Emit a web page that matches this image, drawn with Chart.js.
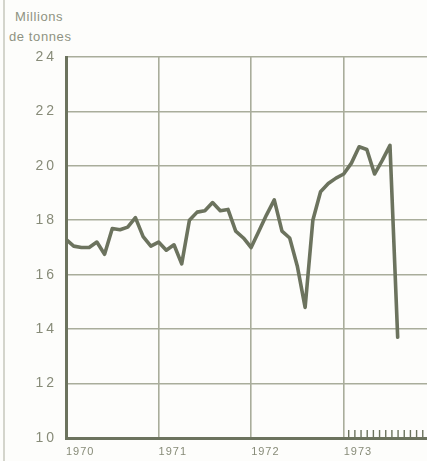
<!DOCTYPE html>
<html lang="fr">
<head>
<meta charset="UTF-8">
<title>Millions de tonnes 1970-1973</title>
<script src="https://cdn.jsdelivr.net/npm/chart.js"></script>
<style>
    body { margin: 0; background: #fdfdfb; }
    .wrap { position: relative; width: 427px; height: 461px; overflow: hidden; }
    .edge { position: absolute; left: 3px; top: 0; width: 2px; height: 461px; background: #d4d5cc; }
    .unit {
        position: absolute; color: #8f9382;
        font-family: 'Liberation Sans', sans-serif; font-size: 13px; letter-spacing: 0.6px;
    }
    canvas { position: absolute; left: 0; top: 0; }
</style>
</head>
<body>
<div class="wrap">
    <div class="edge"></div>
    <div class="unit" style="left:15px; top:9px;">Millions</div>
    <div class="unit" style="left:9px; top:29px;">de tonnes</div>
    <canvas id="chart" width="427" height="461"></canvas>
</div>

<script>
    // monthly values, Jan 1970 .. Aug 1973
    const values1970 = [17.3, 17.05, 17.0, 17.0, 17.2, 16.75, 17.7, 17.65, 17.75, 18.1, 17.4, 17.05];
    const values1971 = [17.2, 16.9, 17.1, 16.4, 18.0, 18.3, 18.35, 18.65, 18.35, 18.4, 17.6, 17.35];
    const values1972 = [17.0, 17.6, 18.2, 18.75, 17.6, 17.35, 16.3, 14.8, 18.0, 19.05, 19.35, 19.55];
    const values1973 = [19.7, 20.1, 20.7, 20.6, 19.7, 20.2, 20.75, 13.7];

    const years = ['1970', '1971', '1972', '1973'];
    const yTicks = [10, 12, 14, 16, 18, 20, 22, 24];

    const values = [...values1970, ...values1971, ...values1972, ...values1973];
    const points = values.map((v, i) => ({ x: i, y: v }));

    // little marks along the axis under 1973
    const smallTicks = [];
    for (let m = 0.65; m < 11.2; m += 0.8) smallTicks.push(36 + m);

    const lineCol = '#6c735e';
    const gridCol = '#a9ad9b';
    const textCol = '#878b78';

    const axisMarks = {
        id: 'axisMarks',
        afterDraw(chart) {
            const ctx = chart.ctx;
            const xs = chart.scales.x;
            const bottom = chart.chartArea.bottom;
            ctx.save();
            ctx.strokeStyle = lineCol;
            ctx.lineWidth = 1.4;
            smallTicks.forEach(v => {
                const px = xs.getPixelForValue(v);
                ctx.beginPath();
                ctx.moveTo(px, bottom);
                ctx.lineTo(px, bottom - 8);
                ctx.stroke();
            });
            ctx.restore();
        }
    };

    // wide spacing for the y labels, tighter for the years (drawn later, z 1)
    const spacing = {
        id: 'spacing',
        beforeDraw(chart) { chart.ctx.letterSpacing = '3px'; },
        beforeDatasetsDraw(chart) { chart.ctx.letterSpacing = '1px'; },
        afterDraw(chart) { chart.ctx.letterSpacing = '0px'; }
    };

    new Chart(document.getElementById('chart'), {
        type: 'line',
        data: {
            datasets: [{
                data: points,
                borderColor: lineCol,
                borderWidth: 3.6,
                borderJoinStyle: 'round',
                borderCapStyle: 'round',
                pointRadius: 0,
                tension: 0,
                fill: false
            }]
        },
        options: {
            responsive: false,
            animation: false,
            layout: { padding: { top: 57, left: 0, right: 0, bottom: 0 } },
            plugins: { legend: { display: false }, tooltip: { enabled: false } },
            scales: {
                x: {
                    type: 'linear',
                    min: 0,
                    max: 46.8,
                    afterFit: s => { s.height = 23; },
                    afterBuildTicks: s => { s.ticks = years.map((y, i) => ({ value: i * 12 })); },
                    ticks: {
                        z: 1,
                        align: 'start',
                        padding: 7,
                        color: textCol,
                        font: { family: 'Liberation Sans', size: 11 },
                        callback: v => years[v / 12]
                    },
                    grid: { color: gridCol, lineWidth: 1.6, drawTicks: false },
                    border: { color: lineCol, width: 3 }
                },
                y: {
                    min: 10,
                    max: 24,
                    afterFit: s => { s.width = 66; },
                    afterBuildTicks: s => { s.ticks = yTicks.map(v => ({ value: v })); },
                    ticks: {
                        padding: 9,
                        color: textCol,
                        font: { family: 'Liberation Sans', size: 14 }
                    },
                    grid: { color: gridCol, lineWidth: 1.6, drawTicks: false },
                    border: { color: lineCol, width: 3 }
                }
            }
        },
        plugins: [axisMarks, spacing]
    });
</script>
</body>
</html>
